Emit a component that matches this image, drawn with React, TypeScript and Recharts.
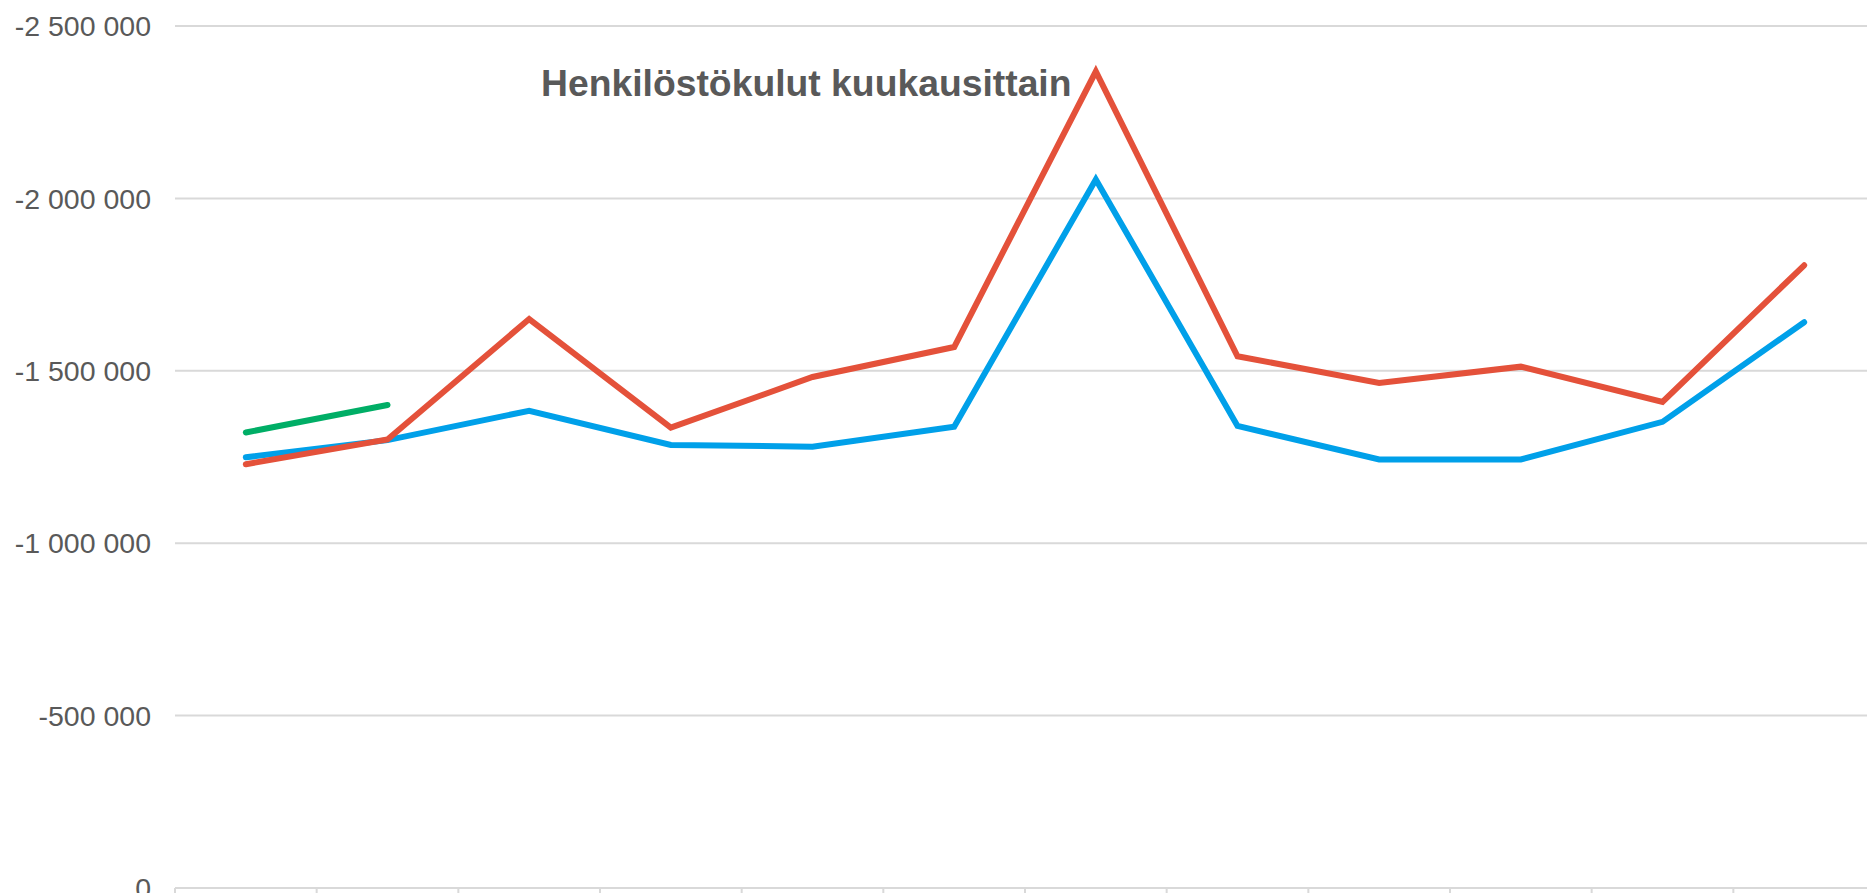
import { LineChart, Line, XAxis, YAxis, CartesianGrid } from 'recharts';

// kuukaudet (x-akselin luokat)
const months = [
  'tammi', 'helmi', 'maalis', 'huhti', 'touko', 'kesä',
  'heinä', 'elo', 'syys', 'loka', 'marras', 'joulu',
];

// henkilöstökulut, euroa
const blueSeries = [
  -1249000, -1299000, -1384000, -1285000, -1280000, -1338000,
  -2055000, -1340000, -1243000, -1243000, -1352000, -1641000,
];
const redSeries = [
  -1229000, -1301000, -1650000, -1335000, -1482000, -1569000,
  -2368000, -1542000, -1465000, -1512000, -1410000, -1806000,
];
const greenSeries = [-1321000, -1401000];

const yTicks = [-2500000, -2000000, -1500000, -1000000, -500000, 0];
const xBoundaries = [0, 1, 2, 3, 4, 5, 6, 7, 8, 9, 10, 11, 12];

const data = months.map((m, i) => ({
  month: m,
  x: i + 0.5,
  blue: blueSeries[i],
  red: redSeries[i],
  green: i < greenSeries.length ? greenSeries[i] : null,
}));

const formatTick = (v: number) => {
  if (v === 0) return '0';
  const sign = v < 0 ? '-' : '';
  return sign + Math.abs(v).toString().replace(/\B(?=(\d{3})+(?!\d))/g, ' ');
};

export default function App() {
  return (
    <div
      style={{
        position: 'absolute',
        left: 0,
        top: 0,
        width: 1867,
        height: 893,
        overflow: 'hidden',
        background: '#fff',
        fontFamily: '"Liberation Sans", Arial, sans-serif',
      }}
    >
      <LineChart
        width={1880}
        height={918}
        data={data}
        margin={{ top: 26, right: 5, bottom: 0, left: 0 }}
      >
        <CartesianGrid vertical={false} stroke="#d9d9d9" strokeWidth={2} />
        <XAxis
          type="number"
          dataKey="x"
          domain={[0, 12]}
          ticks={xBoundaries}
          tickFormatter={() => ''}
          axisLine={{ stroke: '#d9d9d9', strokeWidth: 2 }}
          tickLine={{ stroke: '#d9d9d9', strokeWidth: 2 }}
          tickSize={6}
          height={30}
        />
        <YAxis
          reversed
          domain={[-2500000, 0]}
          ticks={yTicks}
          tickFormatter={formatTick}
          axisLine={false}
          tickLine={false}
          tickSize={0}
          tickMargin={24}
          width={175}
          tick={{ fill: '#595959', fontSize: 28.5, fontFamily: '"Liberation Sans", Arial, sans-serif' }}
        />
        <Line
          dataKey="blue"
          stroke="#00a0e9"
          strokeWidth={6}
          strokeLinecap="round"
          dot={false}
          isAnimationActive={false}
        />
        <Line
          dataKey="red"
          stroke="#e4513a"
          strokeWidth={6}
          strokeLinecap="round"
          dot={false}
          isAnimationActive={false}
        />
        <Line
          dataKey="green"
          stroke="#00ae66"
          strokeWidth={6}
          strokeLinecap="round"
          dot={false}
          isAnimationActive={false}
        />
      </LineChart>
      <div
        style={{
          position: 'absolute',
          left: 541,
          top: 65,
          fontSize: 37.3,
          lineHeight: '37px',
          fontWeight: 'bold',
          color: '#595959',
          whiteSpace: 'nowrap',
        }}
      >
        Henkilöstökulut kuukausittain
      </div>
    </div>
  );
}
